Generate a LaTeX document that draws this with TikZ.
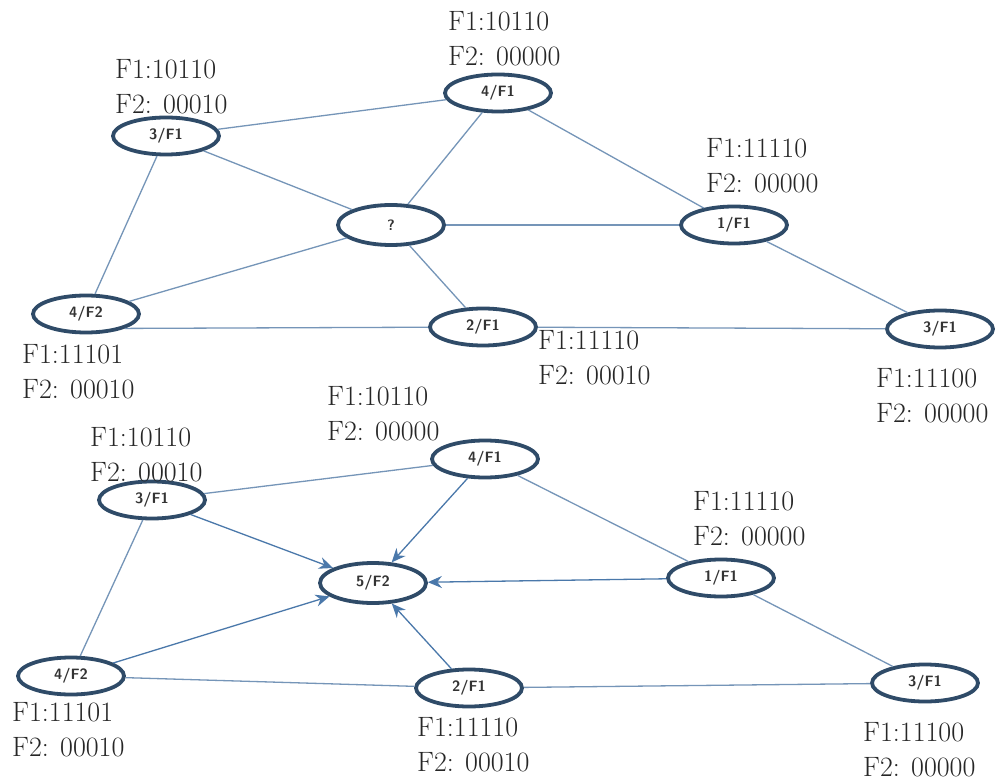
\documentclass[tikz,border=0pt]{standalone}
\usetikzlibrary{arrows.meta}
\usetikzlibrary{shapes.geometric}
\definecolor{ringcol}{HTML}{2F4B68}
\definecolor{edgecol}{HTML}{7595B8}
\definecolor{tipcol}{HTML}{4A78AA}
\tikzset{
  ag/.style={ellipse,draw=ringcol,line width=3.8pt,minimum width=106pt,minimum height=37pt,
    inner sep=0pt,font=\sffamily\bfseries\fontsize{15}{17}\selectfont,text=black!80},
  flags/.style={anchor=west,align=left,inner sep=0pt,font=\fontsize{28}{35}\selectfont,text=black!85},
  link/.style={draw=edgecol,line width=1.3pt},
  toward/.style={link,draw=tipcol,-{Stealth[length=14pt,width=12pt]}}
}
\begin{document}
\begin{tikzpicture}[x=1pt,y=-1pt]
  \useasboundingbox[fill=white] (0,0) rectangle (1001,783);
  % first graph, agent with unknown formula
  \node[ag] (a3) at (166,136) {3/F1};
  \node[ag] (a4) at (498,93) {4/F1};
  \node[ag,minimum height=40pt] (q) at (391,225) {?};
  \node[ag] (a1) at (734,225) {1/F1};
  \node[ag] (b4) at (86,314) {4/F2};
  \node[ag] (a2) at (483,327) {2/F1};
  \node[ag] (c3) at (940,329) {3/F1};
  \node[flags] (la3) at (115,87) {F1:10110\\F2: 00010};
  \node[flags] (la4) at (448,39) {F1:10110\\F2: 00000};
  \node[flags] (la1) at (706,166) {F1:11110\\F2: 00000};
  \node[flags] (lb4) at (22,372) {F1:11101\\F2: 00010};
  \node[flags] (la2) at (538,358) {F1:11110\\F2: 00010};
  \node[flags] (lc3) at (876,396) {F1:11100\\F2: 00000};
  \draw[link] (a3)--(a4);
  \draw[link] (a3)--(q);
  \draw[link] (a3)--(b4);
  \draw[link] (a4)--(q);
  \draw[link] (a4)--(a1);
  \draw[link] (q)--(a1);
  \draw[link] (q)--(b4);
  \draw[link] (q)--(a2);
  \draw[link] (b4.south east)--(a2);
  \draw[link] (a2)--(c3);
  \draw[link] (a1)--(c3);
  % second graph, formula F2 assigned to agent 5
  \node[ag] (d3) at (152,500) {3/F1};
  \node[ag] (d4) at (485,459) {4/F1};
  \node[ag,minimum height=40pt] (d5) at (373,583) {5/F2};
  \node[ag] (d1) at (721,578) {1/F1};
  \node[ag] (e4) at (71,676) {4/F2};
  \node[ag] (d2) at (469,688) {2/F1};
  \node[ag] (f3) at (925,683) {3/F1};
  \node[flags] (ld3) at (90,455) {F1:10110\\F2: 00010};
  \node[flags] (ld4) at (327,414) {F1:10110\\F2: 00000};
  \node[flags] (ld1) at (693,519) {F1:11110\\F2: 00000};
  \node[flags] (le4) at (12,730) {F1:11101\\F2: 00010};
  \node[flags] (ld2) at (417,745) {F1:11110\\F2: 00010};
  \node[flags] (lf3) at (863,750) {F1:11100\\F2: 00000};
  \draw[link] (d3)--(d4);
  \draw[link] (d3)--(e4);
  \draw[link] (d4)--(d1);
  \draw[link] (e4)--(d2);
  \draw[link] (d2)--(f3);
  \draw[link] (d1)--(f3);
  \draw[toward] (d3)--(d5);
  \draw[toward] (d4)--(d5);
  \draw[toward] (d1)--(d5);
  \draw[toward] (e4)--(d5);
  \draw[toward] (d2)--(d5);
\end{tikzpicture}
\end{document}
